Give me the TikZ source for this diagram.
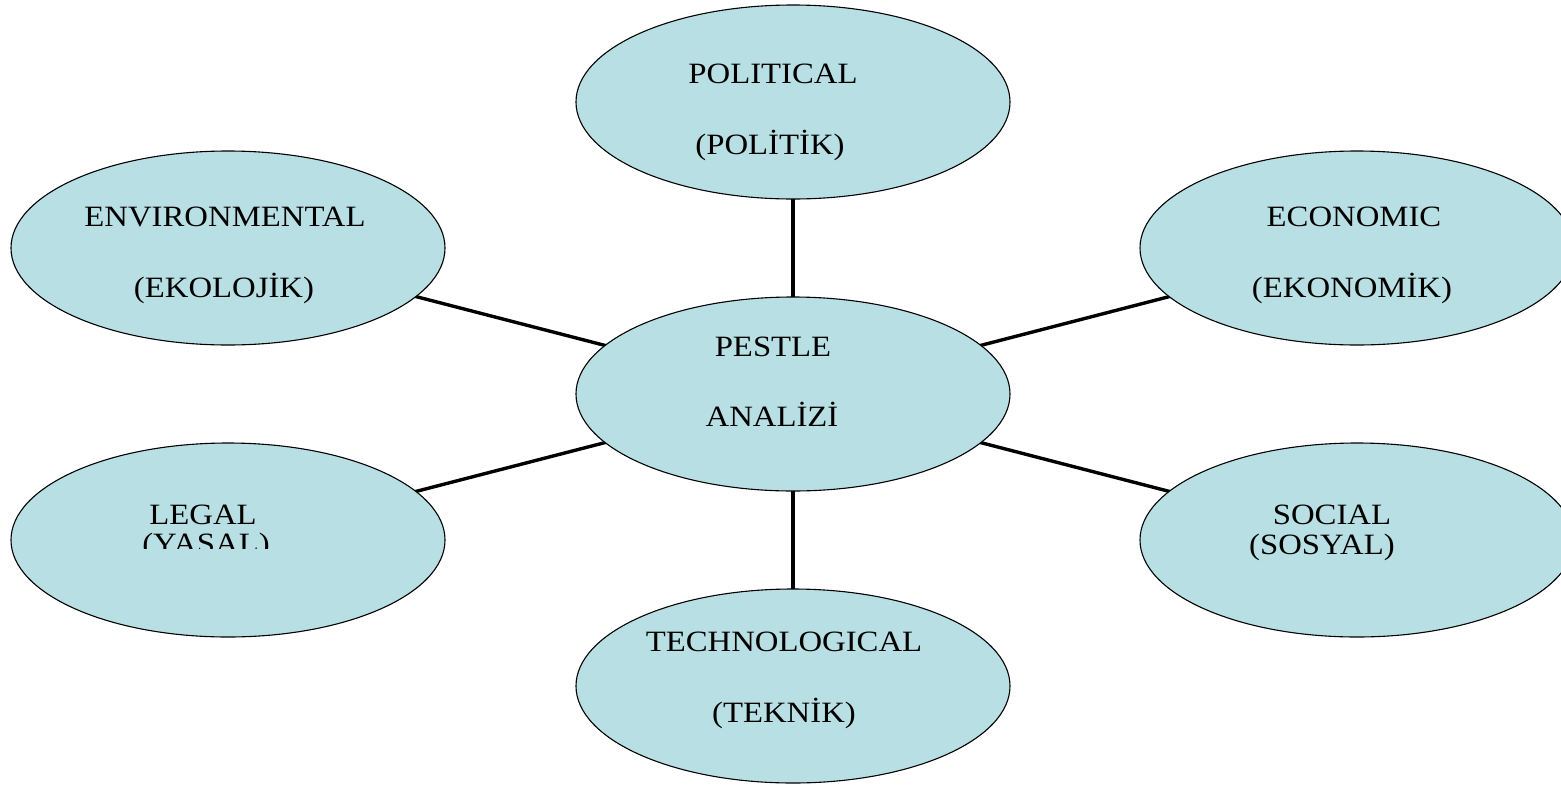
\documentclass[tikz,border=0pt]{standalone}
\usepackage{fontspec}
\setmainfont{Liberation Serif}[FakeStretch=1.11]
\usetikzlibrary{shapes.geometric,backgrounds}
\definecolor{fillc}{HTML}{B8DFE3}
\tikzset{
  oval/.style={ellipse, draw=black, line width=1.1pt, fill=fillc, minimum width=434pt, minimum height=194pt, inner sep=0pt},
  lbl/.style={anchor=base, inner sep=0pt, font=\fontsize{29.5}{34}\selectfont},
  link/.style={line width=3.4pt, black}
}
\begin{document}
\begin{tikzpicture}[x=1pt,y=-1pt]
\useasboundingbox (0,0) rectangle (1561,785);
% ellipses
\node[oval] (pol) at (793,102) {};
\node[oval] (env) at (228,248) {};
\node[oval] (eco) at (1357,248) {};
\node[oval] (leg) at (228,540) {};
\node[oval] (soc) at (1357,540) {};
\node[oval] (tec) at (793,686) {};
\node[oval] (cen) at (793,394) {};
% connectors behind the ellipses
\begin{pgfonlayer}{background}
\fill[white] (0,0) rectangle (1561,785);
\draw[link] (cen.center) -- (pol.center);
\draw[link] (cen.center) -- (env.center);
\draw[link] (cen.center) -- (eco.center);
\draw[link] (cen.center) -- (leg.center);
\draw[link] (cen.center) -- (soc.center);
\draw[link] (cen.center) -- (tec.center);
\end{pgfonlayer}
% labels
\node[lbl] (t1) at (773,83) {POLITICAL};
\node[lbl] (t2) at (770,154) {(POLİTİK)};
\node[lbl] (t3) at (225,226) {ENVIRONMENTAL};
\node[lbl] (t4) at (224,297) {(EKOLOJİK)};
\node[lbl] (t5) at (1354,226) {ECONOMIC};
\node[lbl] (t6) at (1352,297) {(EKONOMİK)};
\node[lbl] (t7) at (773,356) {PESTLE};
\node[lbl] (t8) at (772,426) {ANALİZİ};
\node[lbl] (t9) at (203,524) {LEGAL};
\begin{scope}
\clip (0,0) rectangle (1561,548);
\node[lbl] (t10) at (206,553) {(YASAL)};
\end{scope}
\node[lbl] (t11) at (1332,524) {SOCIAL};
\node[lbl] (t12) at (1322,554) {(SOSYAL)};
\node[lbl] (t13) at (784,651) {TECHNOLOGICAL};
\node[lbl] (t14) at (784,722) {(TEKNİK)};
\end{tikzpicture}
\end{document}
